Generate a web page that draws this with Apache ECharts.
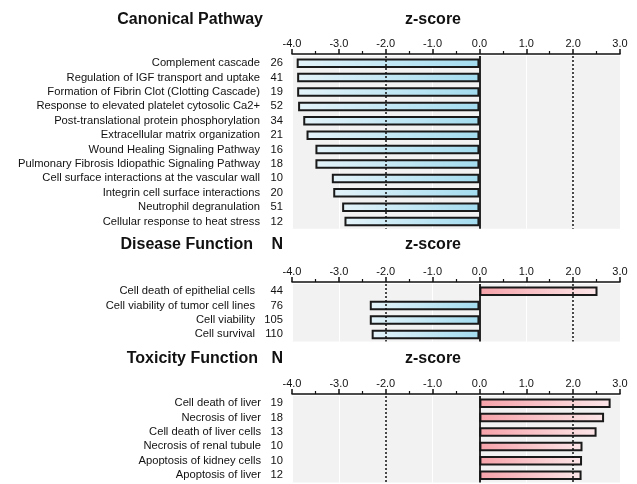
<!DOCTYPE html>
<html>
<head>
<meta charset="utf-8">
<script src="https://cdn.jsdelivr.net/npm/echarts@6/dist/echarts.min.js"></script>
<style>
  html, body { margin: 0; padding: 0; background: #fff; }
  #chart { width: 637px; height: 484px; }
</style>
</head>
<body>
<div id="chart"></div>
<script>
// canonical pathway
var cpLabels = ["Complement cascade", "Regulation of IGF transport and uptake", "Formation of Fibrin Clot (Clotting Cascade)",
  "Response to elevated platelet cytosolic Ca2+", "Post-translational protein phosphorylation", "Extracellular matrix organization",
  "Wound Healing Signaling Pathway", "Pulmonary Fibrosis Idiopathic Signaling Pathway", "Cell surface interactions at the vascular wall",
  "Integrin cell surface interactions", "Neutrophil degranulation", "Cellular response to heat stress"];
var cpN = [26, 41, 19, 52, 34, 21, 16, 18, 10, 20, 51, 12];
var cpZ = [-3.90, -3.89, -3.89, -3.87, -3.76, -3.69, -3.50, -3.50, -3.15, -3.12, -2.93, -2.88];

// disease function
var dfLabels = ["Cell death of epithelial cells", "Cell viability of tumor cell lines", "Cell viability", "Cell survival"];
var dfN = [44, 76, 105, 110];
var dfZ = [2.52, -2.34, -2.34, -2.30];

// toxicity function
var tfLabels = ["Cell death of liver", "Necrosis of liver", "Cell death of liver cells", "Necrosis of renal tubule",
  "Apoptosis of kidney cells", "Apoptosis of liver"];
var tfN = [19, 18, 13, 10, 10, 12];
var tfZ = [2.80, 2.66, 2.50, 2.20, 2.19, 2.18];

var zMin = -4, zMax = 3;

var FONT = "'Liberation Sans', Arial, sans-serif";

var blueGrad = new echarts.graphic.LinearGradient(0, 0, 1, 0, [
  { offset: 0, color: "#e4f3f9" },
  { offset: 1, color: "#a3dcef" }
]);
var redGrad = new echarts.graphic.LinearGradient(0, 0, 1, 0, [
  { offset: 0, color: "#f6a2a9" },
  { offset: 1, color: "#fce6e8" }
]);

// panel layout: grid top, label margin
var panels = [
  { labels: cpLabels, n: cpN, z: cpZ, top: 56, margin: 32 },
  { labels: dfLabels, n: dfN, z: dfZ, top: 284, margin: 37 },
  { labels: tfLabels, n: tfN, z: tfZ, top: 396, margin: 31 }
];
var rowH = 14.4;

var grids = [], xAxes = [], yAxes = [], series = [];
panels.forEach(function (p, i) {
  grids.push({
    left: 292,
    right: 17,
    top: p.top,
    height: p.labels.length * rowH,
    show: true,
    backgroundColor: "#f2f2f2",
    borderWidth: 0
  });
  xAxes.push({
    gridIndex: i,
    type: "value",
    position: "top",
    min: zMin,
    max: zMax,
    interval: 1,
    offset: 2,
    axisLine: { show: true, lineStyle: { color: "#111", width: 1.5 } },
    axisTick: { show: true, length: 5, lineStyle: { color: "#111", width: 1.5 } },
    minorTick: { show: true, splitNumber: 2, length: 3, lineStyle: { color: "#111", width: 1.2 } },
    axisLabel: {
      margin: 5,
      fontSize: 11,
      fontFamily: FONT,
      color: "#111",
      formatter: function (v) { return v.toFixed(1); }
    },
    splitLine: { show: true, lineStyle: { color: "#ffffff", width: 1 } }
  });
  yAxes.push({
    gridIndex: i,
    type: "category",
    position: "left",
    inverse: true,
    data: p.labels,
    axisLine: { show: false },
    axisTick: { show: false },
    axisLabel: { margin: p.margin, fontSize: 11.2, fontFamily: FONT, color: "#111" }
  });
  yAxes.push({
    gridIndex: i,
    type: "category",
    position: "left",
    inverse: true,
    data: p.n.map(String),
    axisLine: { show: false },
    axisTick: { show: false },
    axisLabel: { margin: 9, fontSize: 11.2, fontFamily: FONT, color: "#111" }
  });
  series.push({
    type: "bar",
    xAxisIndex: i,
    yAxisIndex: i * 2,
    barWidth: 9.5,
    data: p.z.map(function (v) {
      return { value: v, itemStyle: { color: v < 0 ? blueGrad : redGrad } };
    }),
    itemStyle: { borderColor: "#1a1a1a", borderWidth: 2 },
    markLine: {
      silent: true,
      symbol: ["none", "none"],
      label: { show: false },
      data: [
        { xAxis: -2, lineStyle: { type: [2, 2], color: "#111", width: 1.5 } },
        { xAxis: 0, lineStyle: { type: "solid", color: "#111", width: 1.8 } },
        { xAxis: 2, lineStyle: { type: [2, 2], color: "#111", width: 1.5 } }
      ]
    }
  });
});

function title(text, x, y, align) {
  return {
    type: "text",
    x: x,
    y: y,
    style: {
      text: text,
      font: "bold 16px " + FONT,
      fill: "#111",
      align: align || "right",
      verticalAlign: "middle"
    }
  };
}

var chart = echarts.init(document.getElementById("chart"));
chart.setOption({
  animation: false,
  backgroundColor: "#fff",
  grid: grids,
  xAxis: xAxes,
  yAxis: yAxes,
  series: series,
  graphic: [
    title("Canonical Pathway", 263, 20),
    title("z-score", 433, 20, "center"),
    title("Disease Function", 253, 245),
    title("N", 283, 245),
    title("z-score", 433, 245, "center"),
    title("Toxicity Function", 258, 359),
    title("N", 283, 359),
    title("z-score", 433, 359, "center")
  ]
});
</script>
</body>
</html>
